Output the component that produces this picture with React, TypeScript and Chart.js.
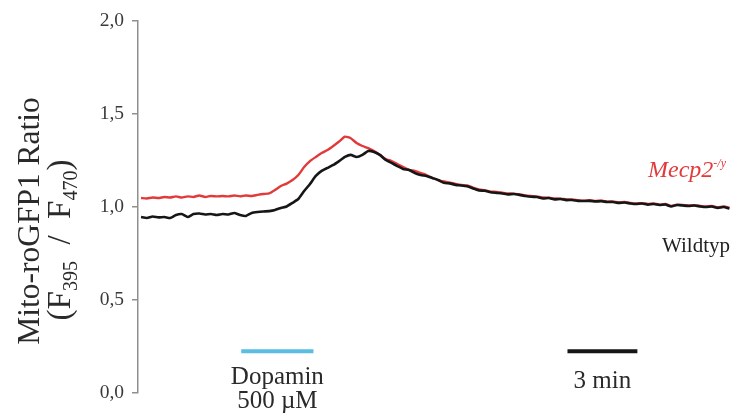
import React, { useEffect, useRef } from "react";
import { Chart, registerables } from "chart.js";

Chart.register(...registerables);

// Sampling interval of the traces, in minutes
const SAMPLE_MIN = 0.25;

// Mito-roGFP1 ratio (F395 / F470), Mecp2-/y cells
const mecp2Ratio = [
  1.048, 1.046, 1.051, 1.048, 1.054, 1.051, 1.057, 1.051, 1.057, 1.054,
  1.062, 1.054, 1.059, 1.057, 1.059, 1.057, 1.062, 1.057, 1.062, 1.059,
  1.065, 1.070, 1.073, 1.091, 1.113, 1.126, 1.145, 1.172, 1.215, 1.247,
  1.269, 1.290, 1.306, 1.328, 1.352, 1.378, 1.370, 1.344, 1.328, 1.317,
  1.301, 1.280, 1.258, 1.247, 1.231, 1.215, 1.199, 1.194, 1.183, 1.172,
  1.156, 1.145,
  1.137, 1.131, 1.124, 1.118, 1.116, 1.104, 1.094, 1.091, 1.083, 1.081,
  1.077, 1.073, 1.071, 1.069, 1.062, 1.059, 1.056, 1.051, 1.050, 1.046,
  1.045, 1.040, 1.041, 1.037, 1.034, 1.036, 1.032, 1.035, 1.029, 1.030,
  1.025, 1.027, 1.022, 1.019, 1.021, 1.016, 1.019, 1.013, 1.016, 1.006,
  1.013, 1.011, 1.008, 1.010, 1.006, 1.003, 1.005, 0.999, 1.003, 0.996,
];

// Mito-roGFP1 ratio (F395 / F470), wild-type cells
const wildtypRatio = [
  0.946, 0.941, 0.949, 0.944, 0.946, 0.941, 0.957, 0.962, 0.946, 0.962,
  0.965, 0.960, 0.962, 0.957, 0.962, 0.960, 0.968, 0.957, 0.952, 0.968,
  0.973, 0.976, 0.978, 0.984, 0.995, 1.003, 1.022, 1.043, 1.086, 1.124,
  1.167, 1.194, 1.210, 1.226, 1.247, 1.269, 1.280, 1.269, 1.280, 1.301,
  1.296, 1.280, 1.253, 1.237, 1.220, 1.204, 1.199, 1.183, 1.172, 1.167,
  1.156, 1.145,
  1.130, 1.127, 1.119, 1.116, 1.111, 1.100, 1.089, 1.087, 1.079, 1.076,
  1.073, 1.068, 1.070, 1.065, 1.059, 1.055, 1.054, 1.046, 1.048, 1.041,
  1.043, 1.037, 1.038, 1.033, 1.032, 1.033, 1.030, 1.031, 1.027, 1.027,
  1.022, 1.024, 1.019, 1.016, 1.019, 1.013, 1.016, 1.011, 1.013, 1.003,
  1.011, 1.008, 1.005, 1.008, 1.003, 1.000, 1.003, 0.995, 1.000, 0.992,
];

// Y axis range and tick step
const Y_MIN = 0;
const Y_MAX = 2;
const Y_STEP = 0.5;

// Visible time window (minutes)
const X_MIN = -0.13;
const X_MAX = 25.36;

// Dopamine application window and 3-minute scale bar (minutes), drawn at ratio level
const dopaminWindow = [4.3, 7.4];
const scaleBarWindow = [18.3, 21.3];
const barLevel = 0.225;

// Series label anchor levels (ratio units)
const mecp2LabelLevel = 1.16;
const wildtypLabelLevel = 0.758;

const SERIF = "'Liberation Serif', 'Times New Roman', serif";
const RED = "#e23a3a";
const BLACK = "#161616";

const toPoints = (vals: number[]) =>
  vals.map((v, i) => ({ x: i * SAMPLE_MIN, y: v }));

type Seg = { t: string; sub?: boolean; sup?: boolean };

function drawSegments(
  ctx: CanvasRenderingContext2D,
  segs: Seg[],
  x: number,
  y: number,
  size: number,
  smallSize: number,
  style: string,
  align: "left" | "center" | "right"
) {
  const fontFor = (s: Seg) =>
    `${style} ${s.sub || s.sup ? smallSize : size}px ${SERIF}`;
  let total = 0;
  for (const s of segs) {
    ctx.font = fontFor(s);
    total += ctx.measureText(s.t).width;
  }
  let cx = align === "left" ? x : align === "center" ? x - total / 2 : x - total;
  ctx.textAlign = "left";
  ctx.textBaseline = "alphabetic";
  for (const s of segs) {
    ctx.font = fontFor(s);
    const dy = s.sub ? size * 0.2 : s.sup ? -size * 0.42 : 0;
    ctx.fillText(s.t, cx, y + dy);
    cx += ctx.measureText(s.t).width;
  }
}

const annotations = {
  id: "annotations",
  afterDatasetsDraw(chart: Chart) {
    const ctx = chart.ctx;
    const xs = chart.scales.x;
    const ys = chart.scales.y;
    const area = chart.chartArea;
    ctx.save();

    // Axis title
    const midY = (area.top + area.bottom) / 2;
    ctx.fillStyle = "#2a2a2a";
    ctx.save();
    ctx.translate(39, midY + 14);
    ctx.rotate(-Math.PI / 2);
    drawSegments(ctx, [{ t: "Mito-roGFP1 Ratio" }], 0, 0, 31.5, 31.5, "", "center");
    ctx.restore();
    ctx.save();
    ctx.translate(70, midY + 33);
    ctx.rotate(-Math.PI / 2);
    drawSegments(
      ctx,
      [
        { t: "(F" },
        { t: "395", sub: true },
        { t: "\u2002/\u2002F" },
        { t: "470", sub: true },
        { t: ")" },
      ],
      0,
      0,
      33,
      20,
      "",
      "center"
    );
    ctx.restore();

    // Dopamine bar
    const by = ys.getPixelForValue(barLevel);
    ctx.lineCap = "butt";
    ctx.lineWidth = 4;
    ctx.strokeStyle = "#5bbde2";
    ctx.beginPath();
    ctx.moveTo(xs.getPixelForValue(dopaminWindow[0]), by);
    ctx.lineTo(xs.getPixelForValue(dopaminWindow[1]), by);
    ctx.stroke();
    const dCenter =
      (xs.getPixelForValue(dopaminWindow[0]) + xs.getPixelForValue(dopaminWindow[1])) / 2;
    ctx.fillStyle = "#2a2a2a";
    drawSegments(ctx, [{ t: "Dopamin" }], dCenter, by + 33, 25, 25, "", "center");
    drawSegments(ctx, [{ t: "500 µM" }], dCenter, by + 57, 25, 25, "", "center");

    // Time scale bar
    ctx.strokeStyle = BLACK;
    ctx.beginPath();
    ctx.moveTo(xs.getPixelForValue(scaleBarWindow[0]), by);
    ctx.lineTo(xs.getPixelForValue(scaleBarWindow[1]), by);
    ctx.stroke();
    const sCenter =
      (xs.getPixelForValue(scaleBarWindow[0]) + xs.getPixelForValue(scaleBarWindow[1])) / 2;
    drawSegments(ctx, [{ t: "3 min" }], sCenter, by + 37, 25, 25, "", "center");

    // Series labels
    ctx.fillStyle = RED;
    drawSegments(
      ctx,
      [{ t: "Mecp2" }, { t: "-/y", sup: true }],
      area.right - 6,
      ys.getPixelForValue(mecp2LabelLevel),
      24,
      12,
      "italic",
      "right"
    );
    ctx.fillStyle = "#222";
    drawSegments(
      ctx,
      [{ t: "Wildtyp" }],
      area.right - 2,
      ys.getPixelForValue(wildtypLabelLevel),
      21,
      21,
      "",
      "right"
    );
    ctx.restore();
  },
};

export default function App() {
  const canvasRef = useRef<HTMLCanvasElement | null>(null);

  useEffect(() => {
    const canvas = canvasRef.current;
    if (!canvas) return;
    const chart = new Chart(canvas, {
      type: "line",
      data: {
        datasets: [
          {
            label: "Wildtyp",
            data: toPoints(wildtypRatio),
            borderColor: BLACK,
            borderWidth: 2.6,
            pointRadius: 0,
            tension: 0.15,
            fill: false,
          },
          {
            label: "Mecp2-/y",
            data: toPoints(mecp2Ratio),
            borderColor: RED,
            borderWidth: 2.4,
            pointRadius: 0,
            tension: 0.15,
            fill: false,
          },
        ],
      },
      options: {
        animation: false,
        responsive: false,
        devicePixelRatio: 1,
        layout: { padding: { top: 21, bottom: 21, left: 0, right: 0 } },
        plugins: {
          legend: { display: false },
          tooltip: { enabled: false },
          title: { display: false },
        },
        scales: {
          x: {
            type: "linear",
            display: false,
            min: X_MIN,
            max: X_MAX,
          },
          y: {
            min: Y_MIN,
            max: Y_MAX,
            afterFit: (scale: any) => {
              scale.width = 138;
            },
            ticks: {
              stepSize: Y_STEP,
              padding: 8,
              color: "#3a3a3a",
              font: { family: SERIF, size: 19.5 },
              callback: (v: any) => Number(v).toFixed(1).replace(".", ","),
            },
            grid: {
              drawOnChartArea: false,
              drawTicks: true,
              tickLength: 6,
              color: "#8f8f8f",
              lineWidth: 1.5,
            },
            border: { display: true, color: "#8f8f8f", width: 1.5 },
          },
        },
      },
      plugins: [annotations],
    });
    return () => chart.destroy();
  }, []);

  return (
    <div
      style={{
        position: "fixed",
        left: 0,
        top: 0,
        width: 732,
        height: 414,
        background: "#fff",
      }}
    >
      <canvas ref={canvasRef} width={732} height={414} style={{ display: "block" }} />
    </div>
  );
}
